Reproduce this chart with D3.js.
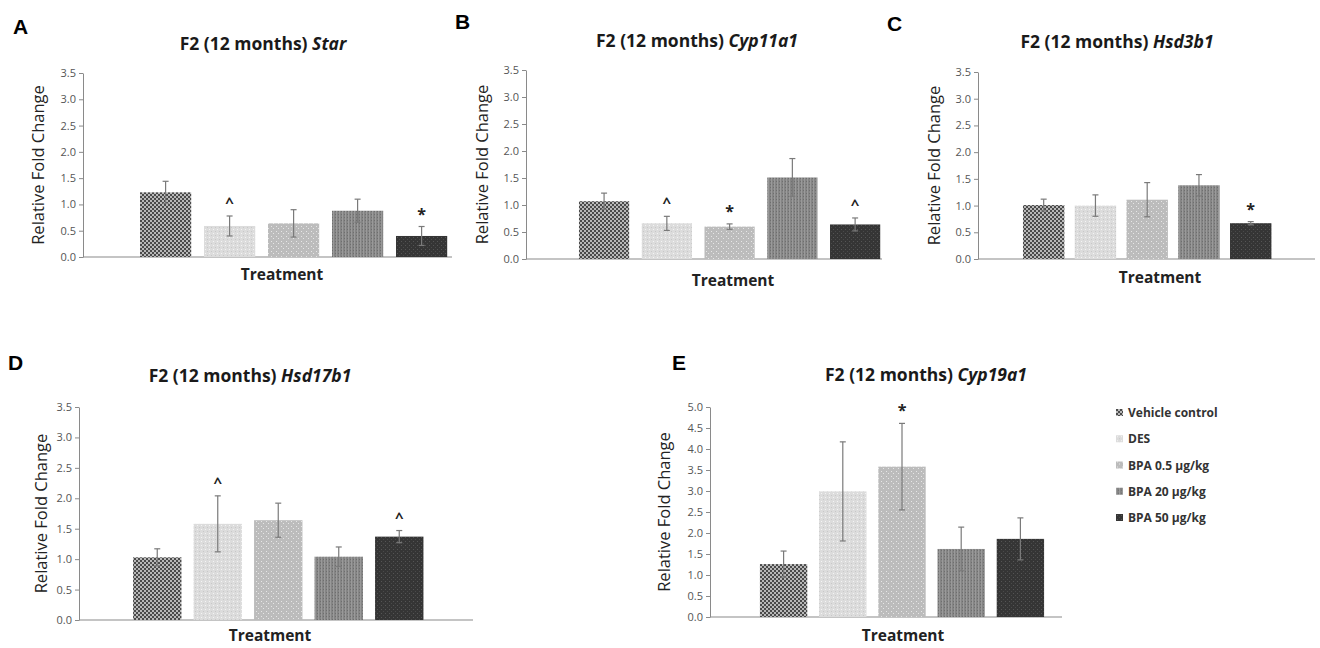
<!DOCTYPE html>
<html>
<head>
<meta charset="utf-8">
<script src="https://cdn.jsdelivr.net/npm/d3@7/dist/d3.min.js"></script>
<style>
  body { margin: 0; background: #fff; }
  svg { display: block; font-family: "Open Sans", Lato, sans-serif; }
</style>
</head>
<body>
<svg id="chart" width="1320" height="648"></svg>
<script>
// treatment groups (legend order)
var groups = ["Vehicle control", "DES", "BPA 0.5 μg/kg", "BPA 20 μg/kg", "BPA 50 μg/kg"];

// A  Star
var starMean = [1.23, 0.59, 0.64, 0.88, 0.40];
var starErr  = [0.21, 0.19, 0.26, 0.22, 0.18];
var starSig  = ["", "^", "", "", "*"];
// B  Cyp11a1
var cyp11Mean = [1.07, 0.66, 0.60, 1.51, 0.64];
var cyp11Err  = [0.15, 0.13, 0.05, 0.35, 0.12];
var cyp11Sig  = ["", "^", "*", "", "^"];
// C  Hsd3b1
var hsd3Mean = [1.01, 1.00, 1.11, 1.38, 0.67];
var hsd3Err  = [0.11, 0.20, 0.32, 0.20, 0.03];
var hsd3Sig  = ["", "", "", "", "*"];
// D  Hsd17b1
var hsd17Mean = [1.03, 1.58, 1.64, 1.04, 1.37];
var hsd17Err  = [0.14, 0.46, 0.28, 0.16, 0.10];
var hsd17Sig  = ["", "^", "", "", "^"];
// E  Cyp19a1
var cyp19Mean = [1.26, 2.99, 3.58, 1.62, 1.86];
var cyp19Err  = [0.31, 1.18, 1.03, 0.52, 0.50];
var cyp19Sig  = ["", "", "*", "", ""];

var ticks35 = [0, 0.5, 1.0, 1.5, 2.0, 2.5, 3.0, 3.5];
var ticks50 = [0, 0.5, 1.0, 1.5, 2.0, 2.5, 3.0, 3.5, 4.0, 4.5, 5.0];

var svg = d3.select("#chart");
var defs = svg.append("defs");

// bar fills: Excel-like textured greys
function pat(id, size, bg, dots) {
	var p = defs.append("pattern").attr("id", id).attr("patternUnits", "userSpaceOnUse")
		.attr("width", size).attr("height", size);
	p.append("rect").attr("width", size).attr("height", size).attr("fill", bg);
	dots.forEach(function(d){
		p.append("rect").attr("x", d[0]).attr("y", d[1]).attr("width", d[2]).attr("height", d[3]).attr("fill", d[4]);
	});
}
pat("p0", 4, "#b8b8b8", [[0,0,2,2,"#4a4a4a"],[2,2,2,2,"#4a4a4a"]]);
pat("p1", 4, "#dcdcdc", [[1,1,1,1,"#f4f4f4"],[3,3,1,1,"#c8c8c8"]]);
pat("p2", 5, "#bcbcbc", [[1,1,1,1,"#e6e6e6"],[3,3,1,1,"#e6e6e6"]]);
pat("p3", 3, "#858585", [[0,0,1,3,"#9a9a9a"],[2,1,1,1,"#6e6e6e"]]);
pat("p4", 4, "#353535", [[1,1,1,1,"#555555"],[3,3,1,1,"#4a4a4a"]]);
var fills = ["url(#p0)", "url(#p1)", "url(#p2)", "url(#p3)", "url(#p4)"];

var panels = [
	{letter:"A", gene:"Star", mean:starMean, err:starErr, sig:starSig, ticks:ticks35, ymax:3.5,
	 ax:83, axEnd:452, band:[133.6, 453.6], top:73, bot:257, lx:13, ly:34, tx:263, ty:50, ylx:39, trx:282, try_:280},
	{letter:"B", gene:"Cyp11a1", mean:cyp11Mean, err:cyp11Err, sig:cyp11Sig, ticks:ticks35, ymax:3.5,
	 ax:526, axEnd:882, band:[572.7, 886.5], top:70, bot:259, lx:455, ly:29, tx:697, ty:47, ylx:483, trx:733, try_:286},
	{letter:"C", gene:"Hsd3b1", mean:hsd3Mean, err:hsd3Err, sig:hsd3Sig, ticks:ticks35, ymax:3.5,
	 ax:978, axEnd:1315, band:[1017.8, 1276.6], top:72, bot:259, lx:887, ly:31, tx:1117, ty:48, ylx:935, trx:1160, try_:283},
	{letter:"D", gene:"Hsd17b1", mean:hsd17Mean, err:hsd17Err, sig:hsd17Sig, ticks:ticks35, ymax:3.5,
	 ax:79, axEnd:473, band:[127, 429.5], top:407, bot:620, lx:8, ly:370, tx:250, ty:382, ylx:42, trx:270, try_:641},
	{letter:"E", gene:"Cyp19a1", mean:cyp19Mean, err:cyp19Err, sig:cyp19Sig, ticks:ticks50, ymax:5.0,
	 ax:710, axEnd:1062, band:[754, 1050], top:407, bot:617, lx:672, ly:370, tx:926, ty:381, ylx:665, trx:903, try_:641}
];

panels.forEach(function(p){
	var g = svg.append("g");
	var x = d3.scaleBand().domain(groups).range(p.band).paddingInner(0.2).paddingOuter(0.1);
	var y = d3.scaleLinear().domain([0, p.ymax]).range([p.bot, p.top]);

	// panel letter
	g.append("text").attr("x", p.lx).attr("y", p.ly)
		.style("font-family", "'Liberation Sans', Arial, sans-serif")
		.style("font-size", "21px").style("font-weight", "bold").text(p.letter);

	// title with italic gene name
	var t = g.append("text").attr("x", p.tx).attr("y", p.ty).attr("text-anchor", "middle")
		.style("font-size", "17.5px").style("font-weight", "bold").attr("fill", "#1a1a1a");
	t.append("tspan").text("F2 (12 months) ");
	t.append("tspan").style("font-style", "italic").text(p.gene);

	// y axis
	var yAxis = d3.axisLeft(y).tickValues(p.ticks).tickSize(4).tickSizeOuter(0)
		.tickFormat(d3.format(".1f"));
	var ya = g.append("g").attr("transform", "translate(" + p.ax + ",0)").call(yAxis);
	ya.select(".domain").attr("stroke", "#8a8a8a");
	ya.selectAll(".tick line").attr("stroke", "#8a8a8a");
	ya.selectAll(".tick text").attr("fill", "#555").style("font-size", "11px")
		.style("font-family", "'Open Sans', sans-serif").attr("x", -7);

	// x axis baseline
	g.append("line").attr("x1", p.ax).attr("x2", p.axEnd).attr("y1", y(0)).attr("y2", y(0))
		.attr("stroke", "#8a8a8a").attr("stroke-width", 1.2);

	// bars
	g.selectAll("rect.bar").data(p.mean).enter().append("rect").attr("class", "bar")
		.attr("x", function(d, i){ return x(groups[i]); })
		.attr("width", x.bandwidth())
		.attr("y", function(d){ return y(d); })
		.attr("height", function(d){ return y(0) - y(d); })
		.attr("fill", function(d, i){ return fills[i]; });

	// error bars
	var eb = g.selectAll("g.err").data(p.mean).enter().append("g").attr("class", "err")
		.attr("stroke", "#7a7a7a").attr("stroke-width", 1.2);
	eb.append("line")
		.attr("x1", function(d, i){ return x(groups[i]) + x.bandwidth() / 2; })
		.attr("x2", function(d, i){ return x(groups[i]) + x.bandwidth() / 2; })
		.attr("y1", function(d, i){ return y(d - p.err[i]); })
		.attr("y2", function(d, i){ return y(d + p.err[i]); });
	eb.append("line")
		.attr("x1", function(d, i){ return x(groups[i]) + x.bandwidth() / 2 - 3; })
		.attr("x2", function(d, i){ return x(groups[i]) + x.bandwidth() / 2 + 3; })
		.attr("y1", function(d, i){ return y(d + p.err[i]); })
		.attr("y2", function(d, i){ return y(d + p.err[i]); });
	eb.append("line")
		.attr("x1", function(d, i){ return x(groups[i]) + x.bandwidth() / 2 - 3; })
		.attr("x2", function(d, i){ return x(groups[i]) + x.bandwidth() / 2 + 3; })
		.attr("y1", function(d, i){ return y(d - p.err[i]); })
		.attr("y2", function(d, i){ return y(d - p.err[i]); });

	// significance marks
	g.selectAll("text.sig").data(p.sig).enter().append("text").attr("class", "sig")
		.attr("x", function(d, i){ return x(groups[i]) + x.bandwidth() / 2; })
		.attr("y", function(d, i){ return y(p.mean[i] + p.err[i]) - (d === "^" ? 8 : 7); })
		.attr("text-anchor", "middle").attr("fill", "#222")
		.style("font-size", function(d){ return d === "^" ? "15px" : "16px"; })
		.style("font-weight", "bold")
		.text(function(d){ return d; });

	// axis titles
	g.append("text").attr("transform", "translate(" + (p.ylx + 5) + "," + ((p.top + p.bot) / 2) + ") rotate(-90)")
		.attr("text-anchor", "middle").style("font-size", "16.5px").attr("fill", "#222")
		.text("Relative Fold Change");
	g.append("text").attr("x", p.trx).attr("y", p.try_).attr("text-anchor", "middle")
		.style("font-size", "15.5px").style("font-weight", "bold").attr("fill", "#222")
		.text("Treatment");
});

// legend beside panel E
var legY = d3.scalePoint().domain(groups).range([413, 518]);
var leg = svg.append("g").selectAll("g").data(groups).enter().append("g")
	.attr("transform", function(d){ return "translate(1116," + legY(d) + ")"; });
leg.append("rect").attr("x", 0).attr("y", -4).attr("width", 7).attr("height", 7)
	.attr("fill", function(d, i){ return fills[i]; });
leg.append("text").attr("x", 12).attr("y", 4).style("font-size", "12px").style("font-weight", "bold")
	.attr("fill", "#333").text(function(d){ return d; });
</script>
</body>
</html>
